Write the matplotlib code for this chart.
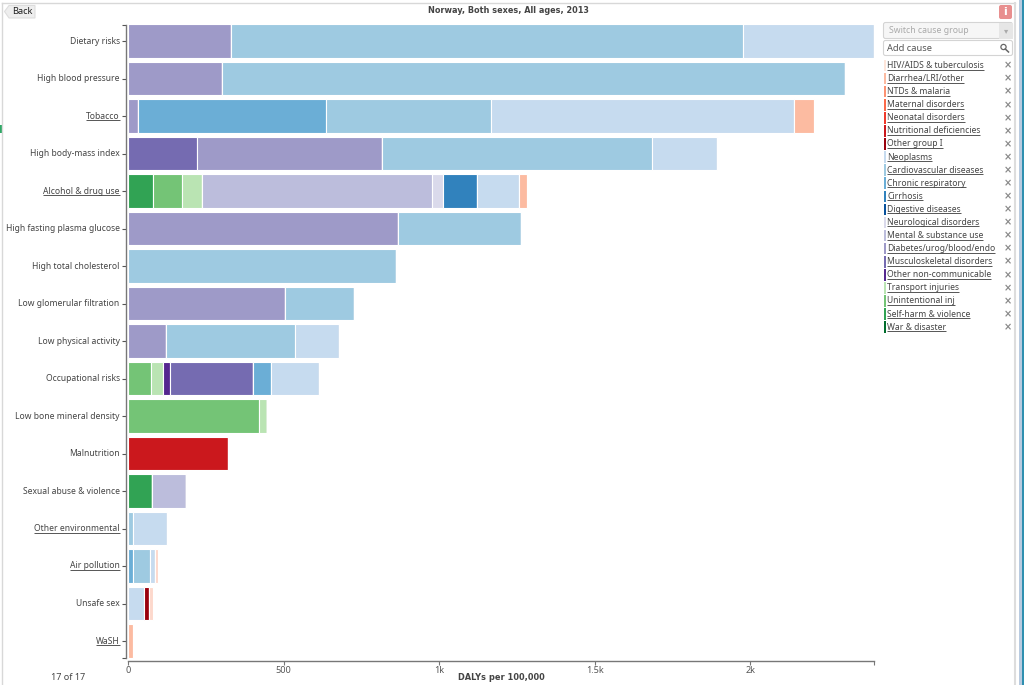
import matplotlib
matplotlib.use('Agg')
import matplotlib.pyplot as plt
from matplotlib.patches import FancyBboxPatch, Rectangle, Circle, Polygon
from matplotlib.transforms import ScaledTranslation
import numpy as np

plt.rcParams['font.family'] = ['Noto Sans', 'DejaVu Sans']

W, H = 1024, 685

risks = ['Dietary risks', 'High blood pressure', 'Tobacco', 'High body-mass index',
         'Alcohol & drug use', 'High fasting plasma glucose', 'High total cholesterol',
         'Low glomerular filtration', 'Low physical activity', 'Occupational risks',
         'Low bone mineral density', 'Malnutrition', 'Sexual abuse & violence',
         'Other environmental', 'Air pollution', 'Unsafe sex', 'WaSH']
underlined_risks = ['Tobacco', 'Alcohol & drug use', 'Other environmental', 'Air pollution', 'WaSH']

# DALYs per 100,000, one list per cause, same order as risks
self_harm = [0, 0, 0, 0, 80, 0, 0, 0, 0, 0, 0, 0, 78, 0, 0, 0, 0]
unintentional = [0, 0, 0, 0, 95, 0, 0, 0, 0, 74, 421, 0, 0, 0, 0, 0, 0]
transport = [0, 0, 0, 0, 63, 0, 0, 0, 0, 40, 26, 0, 0, 0, 0, 0, 0]
other_ncd = [0, 0, 0, 0, 0, 0, 0, 0, 0, 22, 0, 0, 0, 0, 0, 0, 0]
musculoskeletal = [0, 0, 0, 222, 0, 0, 0, 0, 0, 266, 0, 0, 0, 0, 0, 0, 0]
diabetes = [331, 302, 32, 593, 0, 869, 0, 504, 123, 0, 0, 0, 0, 0, 0, 0, 0]
mental = [0, 0, 0, 0, 739, 0, 0, 0, 0, 0, 0, 0, 108, 0, 0, 0, 0]
neurological = [0, 0, 0, 0, 35, 0, 0, 0, 0, 0, 0, 0, 0, 0, 0, 0, 0]
cirrhosis = [0, 0, 0, 0, 109, 0, 0, 0, 0, 0, 0, 0, 0, 0, 0, 0, 0]
chronic_resp = [0, 0, 604, 0, 0, 0, 0, 0, 0, 58, 0, 0, 0, 0, 17, 0, 0]
cardiovascular = [1645, 2003, 530, 869, 0, 394, 862, 222, 414, 0, 0, 0, 0, 15, 55, 0, 0]
neoplasms = [421, 0, 973, 209, 136, 0, 0, 0, 142, 154, 0, 0, 0, 110, 15, 53, 0]
nutritional = [0, 0, 0, 0, 0, 0, 0, 0, 0, 0, 0, 321, 0, 0, 0, 0, 0]
other_group1 = [0, 0, 0, 0, 0, 0, 0, 0, 0, 0, 0, 0, 0, 0, 0, 14, 0]
diarrhea = [0, 0, 64, 0, 24, 0, 0, 0, 0, 0, 0, 0, 0, 0, 0, 0, 15]
hiv = [0, 0, 0, 0, 0, 0, 0, 0, 0, 0, 0, 0, 0, 0, 8, 14, 0]

stack_order = [self_harm, unintentional, transport, other_ncd, musculoskeletal, diabetes,
               mental, neurological, cirrhosis, chronic_resp, cardiovascular, neoplasms,
               nutritional, other_group1, diarrhea, hiv]
stack_colors = ['#31a354', '#74c476', '#bae4b3', '#54278f', '#756bb1', '#9e9ac8',
                '#bcbddc', '#dadaeb', '#3182bd', '#6baed6', '#9ecae1', '#c6dbef',
                '#cb181d', '#99000d', '#fcbba1', '#fdd8cc']

legend_names = ['HIV/AIDS & tuberculosis', 'Diarrhea/LRI/other', 'NTDs & malaria',
                'Maternal disorders', 'Neonatal disorders', 'Nutritional deficiencies',
                'Other group I', 'Neoplasms', 'Cardiovascular diseases', 'Chronic respiratory',
                'Cirrhosis', 'Digestive diseases', 'Neurological disorders',
                'Mental & substance use', 'Diabetes/urog/blood/endo',
                'Musculoskeletal disorders', 'Other non-communicable', 'Transport injuries',
                'Unintentional inj', 'Self-harm & violence', 'War & disaster']
legend_colors = ['#fee5d9', '#fcbba1', '#fc9272', '#fb6a4a', '#ef3b2c', '#cb181d', '#99000d',
                 '#c6dbef', '#9ecae1', '#6baed6', '#3182bd', '#08519c', '#dadaeb', '#bcbddc',
                 '#9e9ac8', '#756bb1', '#54278f', '#bae4b3', '#74c476', '#31a354', '#006d2c']

x_ticks = [0, 500, 1000, 1500, 2000]
x_tick_labels = ['0', '500', '1k', '1.5k', '2k']
x_max = 2397

fig = plt.figure(figsize=(W / 100, H / 100), dpi=100)

# page furniture drawn in pixel coordinates
ui = fig.add_axes([0, 0, 1, 1], zorder=0)
ui.set_xlim(0, W)
ui.set_ylim(H, 0)
ui.axis('off')


def underline(t, color='#555555'):
    fig.canvas.draw()
    bb = t.get_window_extent()
    y = H - bb.y0 - 0.5
    ui.plot([bb.x0, bb.x1], [y, y], color=color, lw=0.7, solid_capstyle='butt')


ui.plot([2, 2], [3, 685], color='#d8d8d8', lw=1)
ui.plot([2, 1015], [3, 3], color='#d8d8d8', lw=1)
ui.plot([1015, 1015], [3, 685], color='#dddddd', lw=1.5)
ui.add_patch(Rectangle((1019, 0), 3, H, color='#b9cbe0', lw=0))
ui.add_patch(Rectangle((1022, 0), 2, H, color='#2f8fb0', lw=0))
ui.add_patch(Rectangle((0, 125), 2.5, 8, color='#2fa866', lw=0))

ui.add_patch(Polygon([(4.5, 11.5), (9, 5.5), (35, 5.5), (35, 18), (9, 18)], closed=True,
                     fc='#eeeeee', ec='#dddddd', lw=0.8))
ui.text(22, 11.5, 'Back', fontsize=6.6, color='#222222', ha='center', va='center')
ui.text(508.5, 10, 'Norway, Both sexes, All ages, 2013', fontsize=5.85, fontweight='bold',
        family='DejaVu Sans', color='#444444', ha='center', va='center')

ui.add_patch(FancyBboxPatch((999, 5), 13, 14, boxstyle='round,pad=0,rounding_size=2',
                            fc='#e88f8f', ec='none'))
ui.text(1005.5, 12, 'i', fontsize=8, fontweight='bold', family='DejaVu Sans', color='white',
        ha='center', va='center')

ui.add_patch(FancyBboxPatch((883.5, 22.5), 129, 16, boxstyle='round,pad=0,rounding_size=2',
                            fc='#f6f6f6', ec='#d4d4d4', lw=0.8))
ui.add_patch(Rectangle((999, 23), 13.5, 15.5, fc='#e6e6e6', ec='none'))
ui.text(889, 30.5, 'Switch cause group', fontsize=6.25, color='#aaaaaa', va='center')
ui.text(1005.7, 30.5, '\u25be', fontsize=6, family='DejaVu Sans', color='#aaaaaa',
        ha='center', va='center')
ui.add_patch(FancyBboxPatch((883.5, 40.5), 129, 15, boxstyle='round,pad=0,rounding_size=2',
                            fc='white', ec='#d4d4d4', lw=0.8))
ui.text(887, 48, 'Add cause', fontsize=6.7, color='#555555', va='center')
ui.add_patch(Circle((1003.5, 47), 2.6, fc='none', ec='#666666', lw=0.9))
ui.plot([1005.3, 1008.5], [49, 52], color='#666666', lw=1.1)

for i, (name, color) in enumerate(zip(legend_names, legend_colors)):
    y = 65.5 + i * 13.08
    ui.add_patch(Rectangle((883.5, y - 5.8), 2.5, 11.6, color=color, lw=0))
    t = ui.text(887, y, name, fontsize=6.15, color='#444444', va='center')
    underline(t)
    ui.text(1008, y, '\u00d7', fontsize=7, fontweight='bold', family='DejaVu Sans',
            color='#888888', ha='center', va='center')

# main chart, axes box matched to the plot area in pixels
left, right, top, bottom = 128, 874, 24.5, 660.7
ax = fig.add_axes([left / W, 1 - bottom / H, (right - left) / W, (bottom - top) / H], zorder=1)
ax.patch.set_alpha(0)
ax.set_xlim(0, x_max)
ax.set_ylim((bottom - 41) / 37.5, (top - 41) / 37.5)

y_pos = np.arange(len(risks))
cum = np.zeros(len(risks))
for values, color in zip(stack_order, stack_colors):
    vals = np.array(values, dtype=float)
    ax.barh(y_pos, vals, left=cum, height=0.9, color=color, edgecolor='white', linewidth=0.8)
    cum += vals

for s in ['top', 'right']:
    ax.spines[s].set_visible(False)
for s in ['left', 'bottom']:
    ax.spines[s].set_color('#777777')
    ax.spines[s].set_linewidth(1)
ax.spines['left'].set_position(('outward', 1.5))
ax.spines['left'].set_bounds(16.45, -0.44)
ax.spines['bottom'].set_bounds(0, x_max)

ax.set_yticks(y_pos)
ax.set_yticklabels(risks, fontsize=6.15, color='#444444')
ax.set_yticks([16.45, -0.44], minor=True)
ax.tick_params(axis='y', which='both', length=3, width=0.8, color='#555555', pad=1.5)
ax.set_xticks(x_ticks)
ax.set_xticklabels(x_tick_labels, fontsize=6.5, color='#555555')
ax.set_xticks([x_max], minor=True)
ax.tick_params(axis='x', which='both', length=3, width=0.8, color='#777777', pad=0.5)

# labels sit a pixel above the tick
shift = ScaledTranslation(0, 1 / 100, fig.dpi_scale_trans)
for label in ax.get_yticklabels():
    label.set_transform(label.get_transform() + shift)

fig.canvas.draw()
for label in ax.get_yticklabels():
    if label.get_text() in underlined_risks:
        underline(label)

ui.text(501.5, 678, 'DALYs per 100,000', fontsize=5.95, fontweight='bold', family='DejaVu Sans',
        color='#444444', ha='center', va='center')
ui.text(68, 677, '17 of 17', fontsize=6.5, color='#444444', ha='center', va='center')

fig.savefig('out.png', dpi=100)
